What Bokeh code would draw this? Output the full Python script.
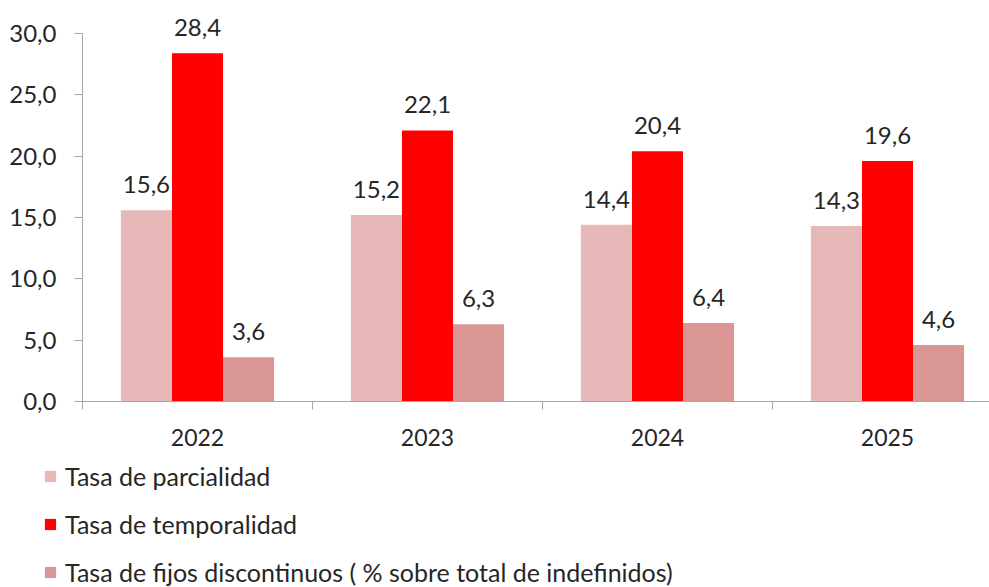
from bokeh.plotting import figure
from bokeh.models import ColumnDataSource, Range1d, FixedTicker, Legend, LegendItem, LabelSet
from bokeh.core.properties import value
from bokeh.embed import file_html
from bokeh.resources import INLINE

years = ["2022", "2023", "2024", "2025"]
parcialidad = [15.6, 15.2, 14.4, 14.3]
temporalidad = [28.4, 22.1, 20.4, 19.6]
fijos_disc = [3.6, 6.3, 6.4, 4.6]
series_names = ["Tasa de parcialidad", "Tasa de temporalidad",
                "Tasa de fijos discontinuos ( % sobre total de indefinidos)"]
colors = ["#E6B9B8", "#FF0000", "#D99694"]
y_ticks = [0, 5, 10, 15, 20, 25, 30]
y_tick_labels = ["0,0", "5,0", "10,0", "15,0", "20,0", "25,0", "30,0"]

FONT = "Lato"
TXT = "#262626"
AX = "#A6A6A6"

W, H = 989, 587
X0, Y0, YTOP = 82, 401, 33           # pixel positions of axis origin and y=30
PX_CAT = 230.0                        # pixels per category
PX_Y = (Y0 - YTOP) / 30.0             # pixels per unit

p = figure(frame_width=W, frame_height=H, output_backend="svg", toolbar_location=None,
           x_range=Range1d(-X0 / PX_CAT, (W - X0) / PX_CAT),
           y_range=Range1d(-(H - Y0) / PX_Y, 30 + YTOP / PX_Y),
           min_border=0)
p.outline_line_color = None
p.xgrid.grid_line_color = None
p.ygrid.grid_line_color = None

bw = 0.222
offsets = [-bw, 0.0, bw]
renderers = []
for i, vals in enumerate([parcialidad, temporalidad, fijos_disc]):
    xs = [j + 0.5 + offsets[i] for j in range(len(years))]
    src = ColumnDataSource(dict(x=xs, top=vals,
                                lab=[f"{v:.1f}".replace(".", ",") for v in vals]))
    r = p.vbar(x="x", top="top", width=bw, source=src, fill_color=colors[i],
               line_color=None)
    renderers.append(r)
    p.add_layout(LabelSet(x="x", y="top", text="lab", source=src,
                          text_align="center", text_baseline="alphabetic",
                          y_offset=17, text_font=value(FONT), text_font_size="24px",
                          text_color=TXT))

# y axis
ya = p.yaxis[0]
ya.fixed_location = 0
ya.bounds = (0, 30)
ya.ticker = FixedTicker(ticks=y_ticks)
ya.major_label_overrides = {t: l for t, l in zip(y_ticks, y_tick_labels)}
ya.major_label_text_font = FONT
ya.major_label_text_font_size = "24px"
ya.major_label_text_color = TXT
ya.axis_line_color = AX
ya.major_tick_line_color = AX
ya.major_tick_out = 8
ya.major_tick_in = 0
ya.minor_tick_line_color = None
ya.major_label_standoff = 18

# x axis
xa = p.xaxis[0]
xa.fixed_location = 0
xa.bounds = (0, (W - X0) / PX_CAT)
xa.ticker = FixedTicker(ticks=[j + 0.5 for j in range(len(years))],
                        minor_ticks=list(range(len(years) + 1)))
xa.major_label_overrides = {j + 0.5: y for j, y in enumerate(years)}
xa.major_label_text_font = FONT
xa.major_label_text_font_size = "23px"
xa.major_label_text_color = TXT
xa.axis_line_color = AX
xa.major_tick_line_color = None
xa.major_tick_out = 0
xa.major_tick_in = 0
xa.minor_tick_line_color = AX
xa.minor_tick_out = 8
xa.minor_tick_in = 0
xa.major_label_standoff = 19

legend = Legend(items=[LegendItem(label=series_names[i], renderers=[renderers[i]])
                       for i in range(3)],
                location=(43, 0), orientation="vertical",
                glyph_width=14, glyph_height=14, label_height=24, spacing=18,
                label_standoff=8, padding=0, margin=0,
                border_line_color=None, background_fill_alpha=0,
                label_text_font=FONT, label_text_font_size="25px",
                label_text_color=TXT)
p.add_layout(legend, "center")

open("out.html", "w").write(file_html(p, INLINE))
